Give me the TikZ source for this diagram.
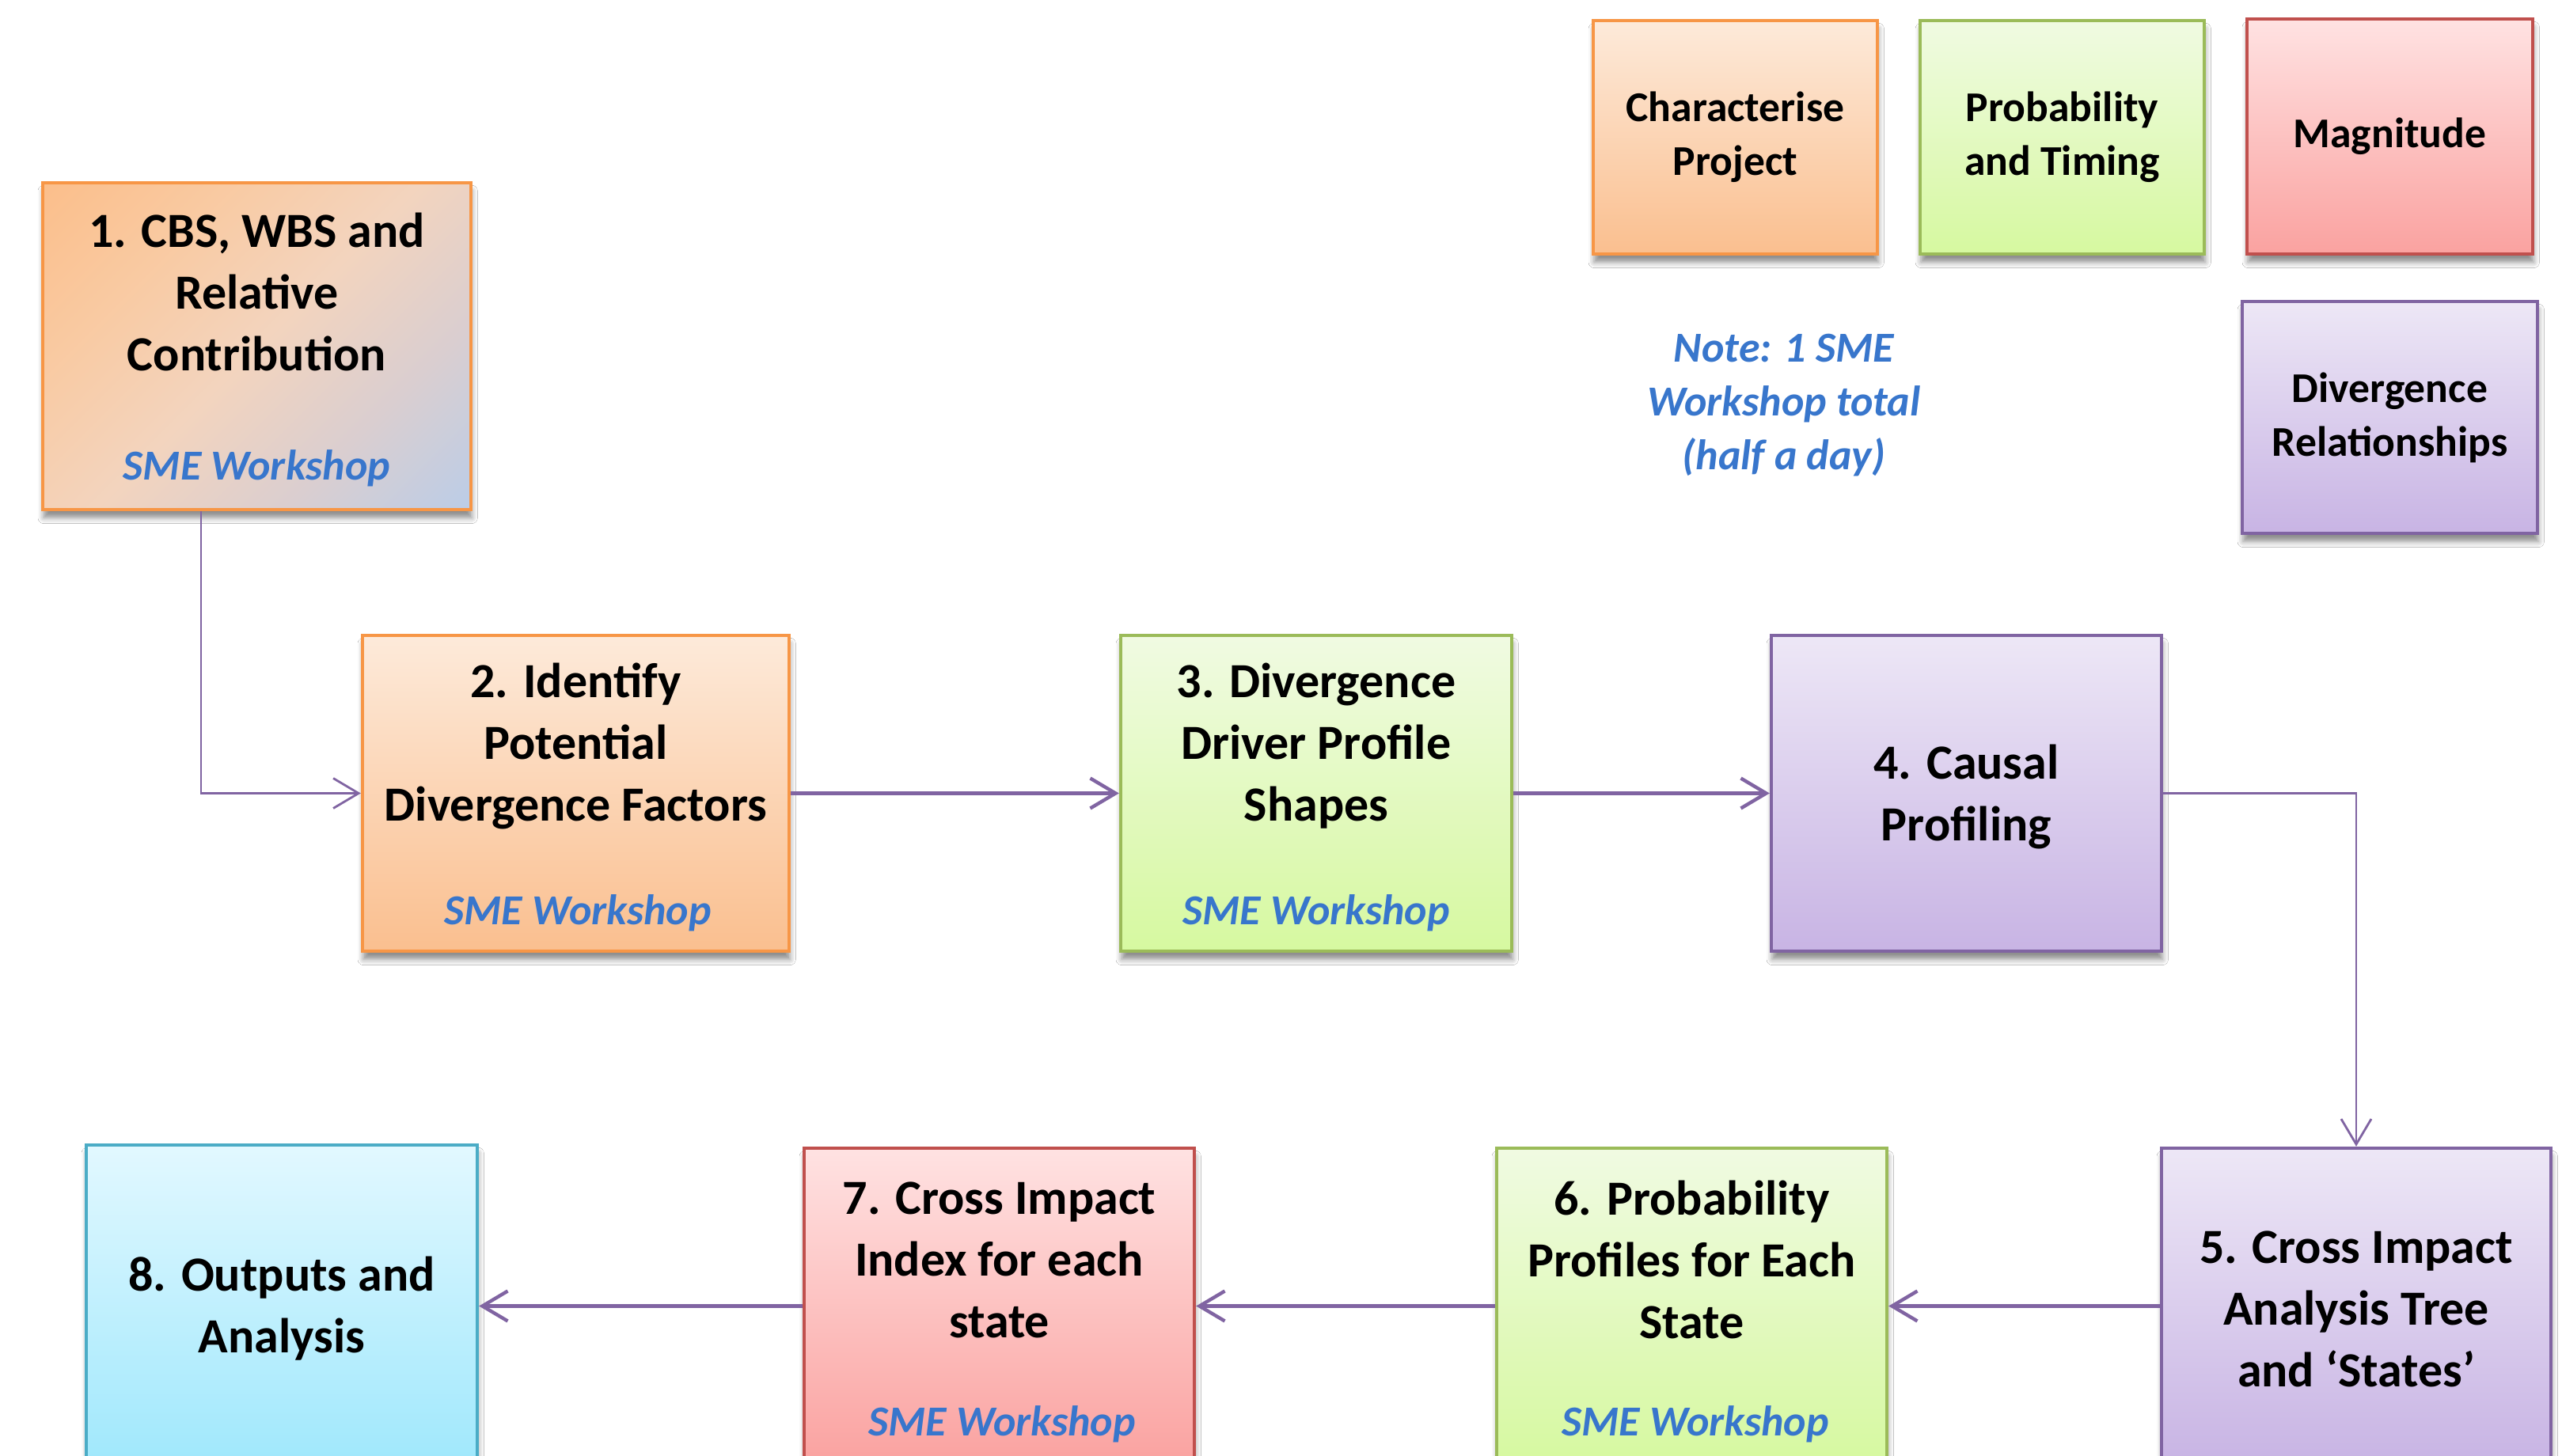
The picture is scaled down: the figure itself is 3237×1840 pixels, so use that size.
\documentclass[tikz,border=0pt]{standalone}
\usepackage{fontspec}
\setmainfont{Carlito}
\usetikzlibrary{arrows.meta,shadows.blur}
\definecolor{orgT}{RGB}{253,234,218}
\definecolor{orgBot}{RGB}{250,191,143}
\definecolor{orgB}{RGB}{247,150,70}
\definecolor{grnT}{RGB}{240,250,226}
\definecolor{grnBot}{RGB}{214,249,160}
\definecolor{grnB}{RGB}{155,187,89}
\definecolor{purT}{RGB}{237,231,246}
\definecolor{purBot}{RGB}{200,180,228}
\definecolor{purB}{RGB}{128,100,162}
\definecolor{redT}{RGB}{255,226,226}
\definecolor{redBot}{RGB}{250,162,160}
\definecolor{redB}{RGB}{192,80,77}
\definecolor{cyT}{RGB}{226,248,255}
\definecolor{cyBot}{RGB}{160,232,252}
\definecolor{cyB}{RGB}{75,172,198}
\definecolor{oneT}{RGB}{251,190,138}
\definecolor{oneO}{RGB}{249,202,162}
\definecolor{oneM}{RGB}{243,212,190}
\definecolor{oneG}{RGB}{218,206,208}
\definecolor{oneBot}{RGB}{186,205,232}
\definecolor{smeblue}{RGB}{56,118,204}
\definecolor{conC}{RGB}{128,100,162}
\pgfdeclareverticalshading{oneshade}{100bp}{color(0bp)=(oneBot); color(14bp)=(oneBot); color(32bp)=(oneG); color(50bp)=(oneM); color(68bp)=(oneO); color(86bp)=(oneT); color(100bp)=(oneT)}
\begin{document}
\begin{tikzpicture}[x=0.25pt,y=-0.25pt,
  wh/.style 2 args={minimum width=#1*0.25pt, minimum height=#2*0.25pt},
  box/.style={rectangle, line width=1.1pt, inner sep=0pt,
    blur shadow={shadow xshift=0.3pt, shadow yshift=-2.6pt, shadow blur radius=1.8pt, shadow opacity=45}},
  orangebox/.style={box, draw=orgB, top color=orgT, bottom color=orgBot},
  onebox/.style={box, draw=orgB, shade, shading=oneshade, shading angle=45},
  greenbox/.style={box, draw=grnB, top color=grnT, bottom color=grnBot},
  purplebox/.style={box, draw=purB, top color=purT, bottom color=purBot},
  redbox/.style={box, draw=redB, top color=redT, bottom color=redBot},
  cyanbox/.style={box, draw=cyB, top color=cyT, bottom color=cyBot},
  main/.style={align=center, inner sep=0pt, yshift=-1pt, font=\fontsize{15.5}{19.5}\selectfont\bfseries, text=black},
  sme/.style={align=center, inner sep=0pt, yshift=-1pt, font=\fontsize{13.5}{17}\selectfont\bfseries\itshape, text=smeblue},
  leg/.style={align=center, font=\fontsize{13.4}{17}\selectfont\bfseries, text=black},
  conn/.style={draw=conC, line width=#1, -{Straight Barb[length=8pt,width=9.5pt]}},
  conn/.default=1.1pt
]
\useasboundingbox (0,0) rectangle (3237,1840);
\clip (0,0) rectangle (3237,1840);
\fill[white] (0,0) rectangle (3237,1840);

% legend
\node[orangebox, wh={359}{295}, leg] (L1) at (2192.5,173.5) {Characterise\\Project};
\node[greenbox, wh={359}{295}, leg] (L2) at (2605.5,173.5) {Probability\\and Timing};
\node[redbox, wh={361}{297}, leg] (L3) at (3019.5,172.5) {Magnitude};
\node[purplebox, wh={373}{293}, leg] (L4) at (3019.5,527.5) {Divergence\\Relationships};
\node[sme] (note) at (2254,508) {Note: 1 SME\\Workshop total\\(half a day)};

% process boxes
\node[onebox, wh={541}{413}] (b1) at (324.5,437.5) {};
\node[main] (t1) at (324.5,365) {1. CBS, WBS and\\Relative\\Contribution};
\node[sme] (s1) at (324.5,588) {SME Workshop};

\node[orangebox, wh={539}{399}] (b2) at (727.5,1002.5) {};
\node[main] (t2) at (727.5,939) {2. Identify\\Potential\\Divergence Factors};
\node[sme] (s2) at (730,1150) {SME Workshop};

\node[greenbox, wh={494}{399}] (b3) at (1663,1002.5) {};
\node[main] (t3) at (1663,939) {3. Divergence\\Driver Profile\\Shapes};
\node[sme] (s3) at (1663,1150) {SME Workshop};

\node[purplebox, wh={493}{399}] (b4) at (2484.5,1002.5) {};
\node[main] (t4) at (2484.5,1003) {4. Causal\\Profiling};

\node[purplebox, wh={492}{399}] (b5) at (2977,1650.5) {};
\node[main] (t5) at (2977,1650) {5. Cross Impact\\Analysis Tree\\and ‘States’};

\node[greenbox, wh={493}{399}] (b6) at (2137.5,1650.5) {};
\node[main] (t6) at (2137.5,1588) {6. Probability\\Profiles for Each\\State};
\node[sme] (s6) at (2142,1796) {SME Workshop};

\node[redbox, wh={493}{399}] (b7) at (1262.5,1650.5) {};
\node[main] (t7) at (1262.5,1588) {7. Cross Impact\\Index for each\\state};
\node[sme] (s7) at (1266,1796) {SME Workshop};

\node[cyanbox, wh={494}{403}] (b8) at (356,1648.5) {};
\node[main] (t8) at (356,1650) {8. Outputs and\\Analysis};

% connectors
\coordinate (c1) at (254,1002.5);
\draw[conn=0.7pt] (b1.south -| c1) |- (b2.west);
\draw[conn] (b2.east) -- (b3.west);
\draw[conn] (b3.east) -- (b4.west);
\draw[conn=0.7pt] (b4.east) -| (b5.north);
\draw[conn] (b5.west) -- (b6.east);
\draw[conn] (b6.west) -- (b7.east);
\draw[conn] (b7.west) -- (b7.west -| b8.east);
\end{tikzpicture}
\end{document}
